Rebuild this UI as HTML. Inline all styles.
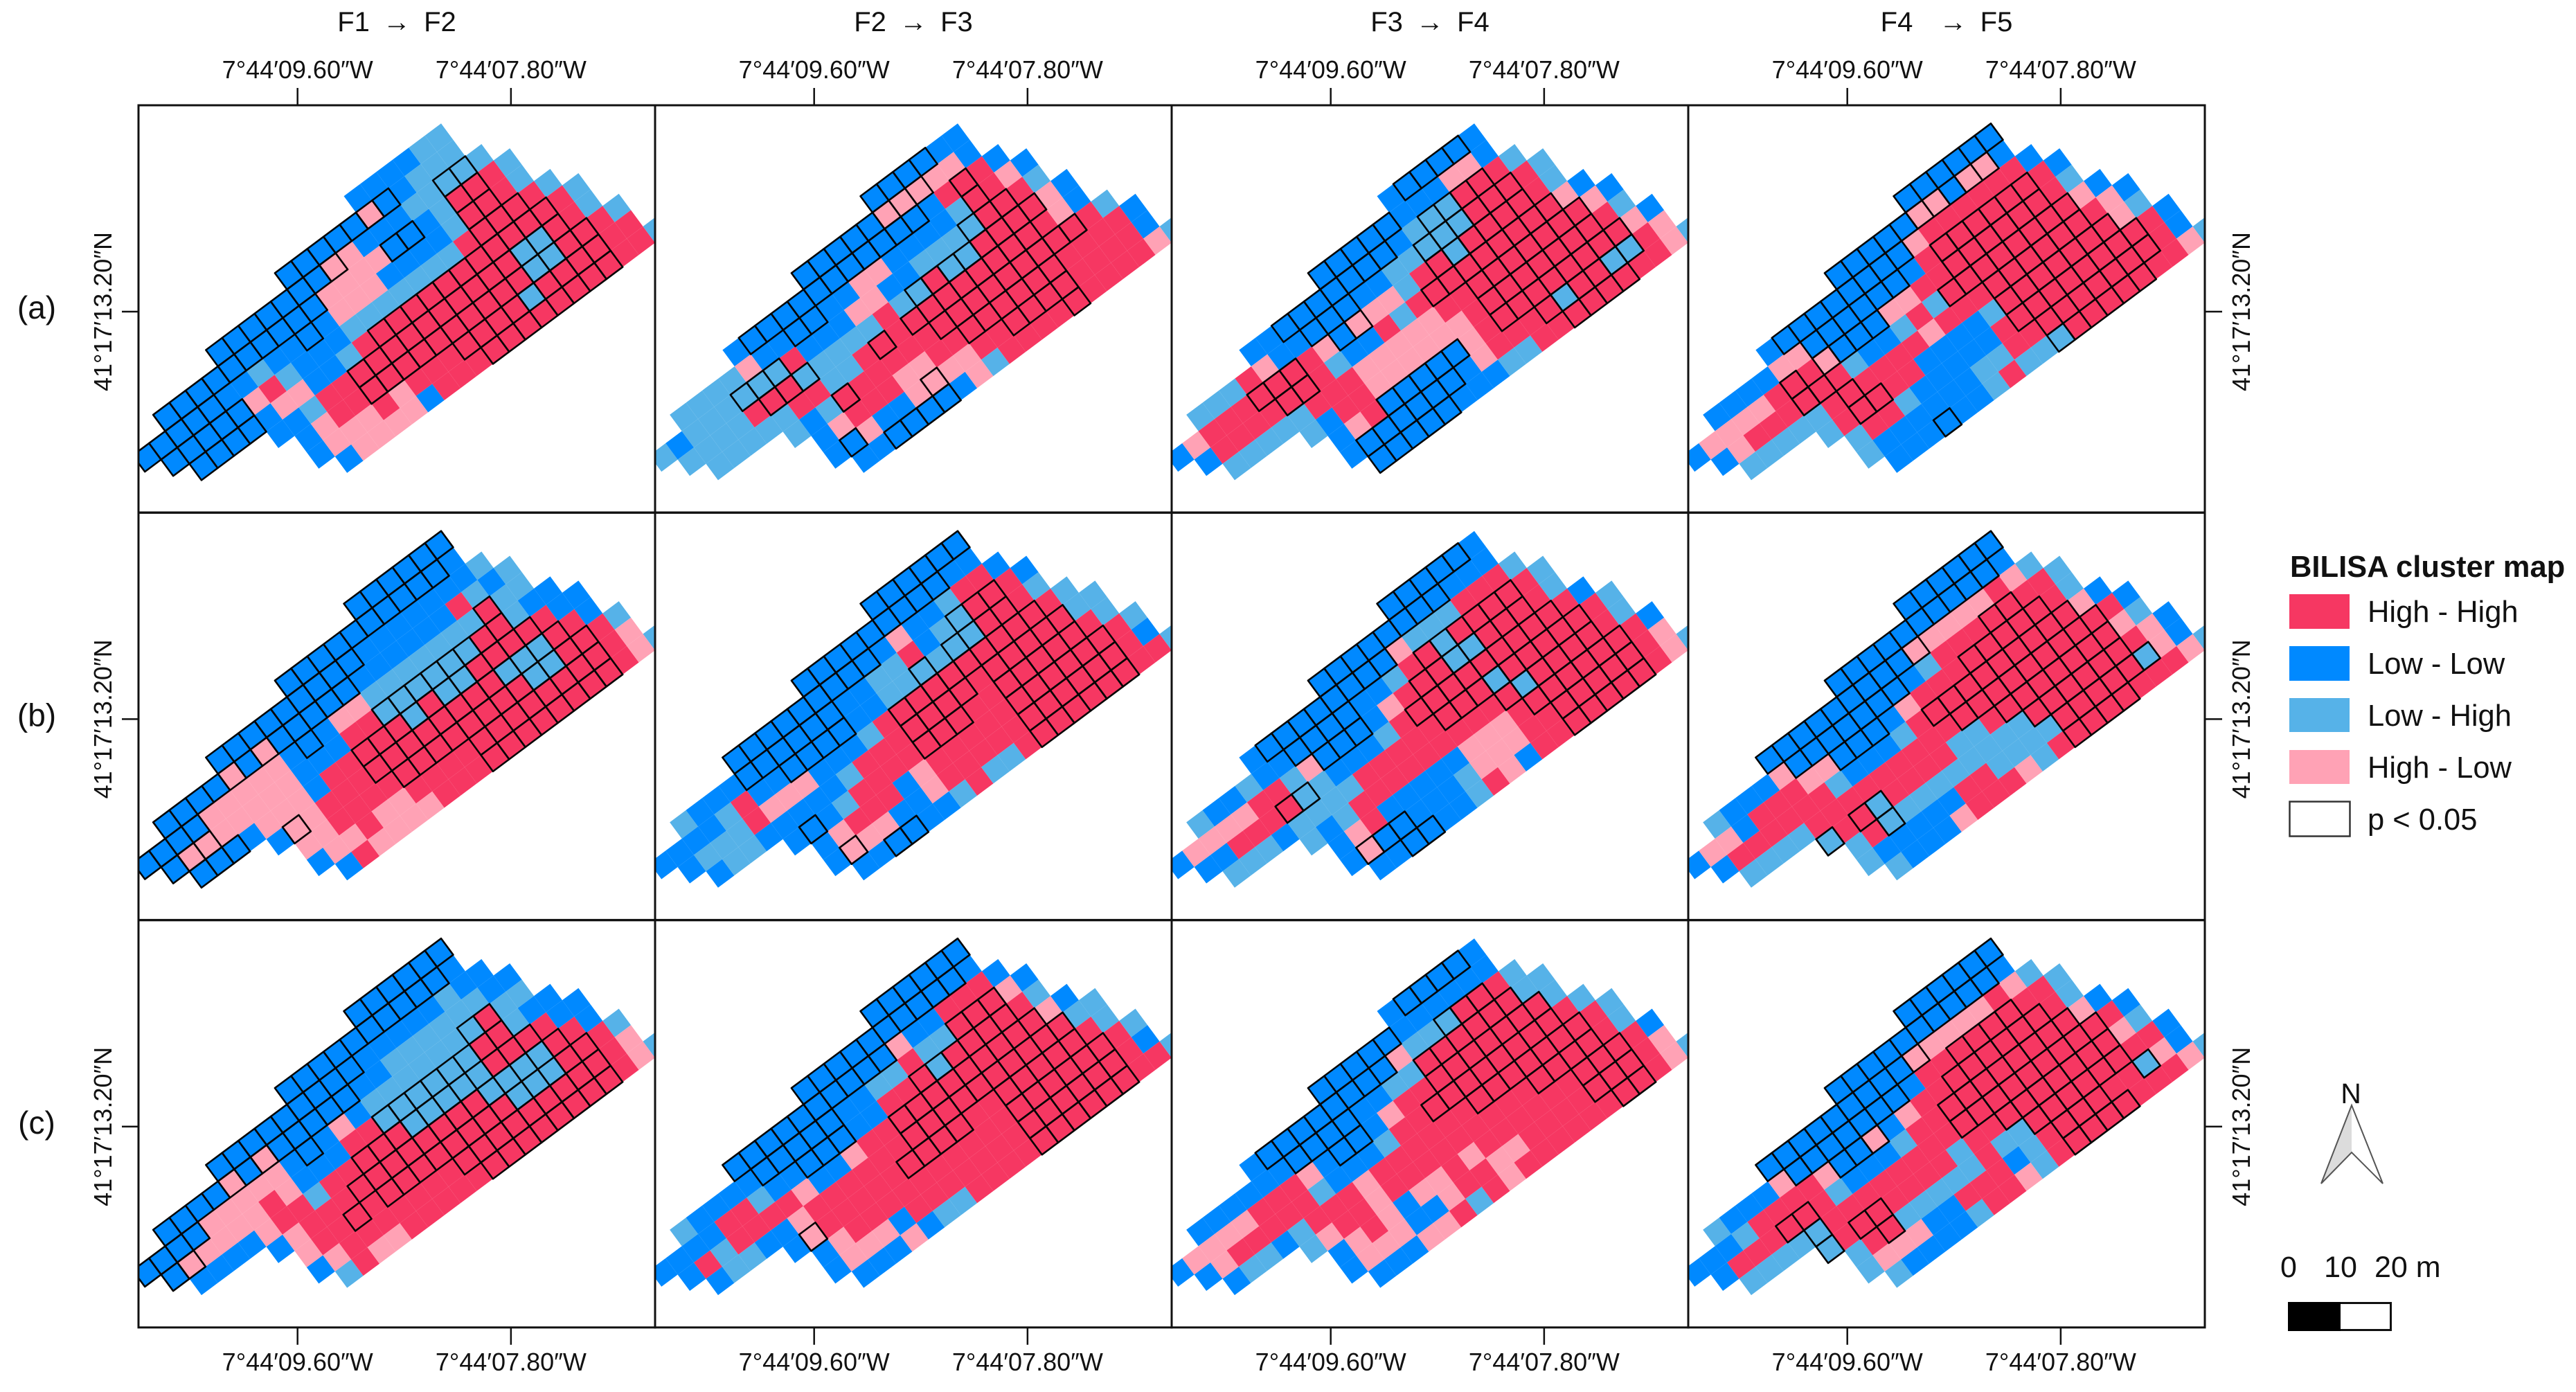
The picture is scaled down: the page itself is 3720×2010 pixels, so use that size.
<!DOCTYPE html>
<html lang="en">
<head>
<meta charset="utf-8">
<title>BILISA cluster map</title>
<style>
html,body{margin:0;padding:0;background:#fff;}
#chart{display:block;width:3720px;height:2010px;}
text{font-family:"Liberation Sans",Arial,sans-serif;fill:#111;}
</style>
</head>
<body>
<svg id="chart" xmlns="http://www.w3.org/2000/svg" width="3720" height="2010" viewBox="0 0 3720 2010">
  <rect x="0" y="0" width="3720" height="2010" fill="#ffffff"/>
  <defs id="clip-defs"></defs>
  <g id="maps"></g>
  <g id="frame"></g>
  <g id="axes"></g>

  <g>
    <text x="3307" y="833" font-size="43.5" font-weight="bold">BILISA cluster map</text>
    <rect x="3306" y="858" width="87" height="50" fill="#F63762"/>
    <text x="3419" y="898" font-size="43.5">High - High</text>
    <rect x="3306" y="933" width="87" height="50" fill="#0089FF"/>
    <text x="3419" y="973" font-size="43.5">Low - Low</text>
    <rect x="3306" y="1008" width="87" height="49" fill="#56B2E8"/>
    <text x="3419" y="1048" font-size="43.5">Low - High</text>
    <rect x="3306" y="1083" width="87" height="49" fill="#FFA2B5"/>
    <text x="3419" y="1123" font-size="43.5">High - Low</text>
    <rect x="3306.5" y="1157.5" width="87" height="50" fill="#ffffff" stroke="#333" stroke-width="2.5"/>
    <text x="3419" y="1198" font-size="43.5">p &lt; 0.05</text>
  </g>

  <g>
    <text x="3395" y="1593" font-size="41" text-anchor="middle">N</text>
    <polygon points="3396,1596 3352,1709 3396,1664" fill="#dcdcdc" stroke="none"/>
    <polygon points="3396,1596 3352,1709 3396,1664 3441,1709" fill="none" stroke="#555" stroke-width="2" stroke-linejoin="miter"/>
  </g>

  <g>
    <text x="3305" y="1844" font-size="43" text-anchor="middle">0</text>
    <text x="3380" y="1844" font-size="43" text-anchor="middle">10</text>
    <text x="3429" y="1844" font-size="43">20 m</text>
    <rect x="3305.5" y="1881.5" width="147" height="39" fill="#ffffff" stroke="#111" stroke-width="3"/>
    <rect x="3304" y="1880" width="76" height="42" fill="#000000"/>
  </g>
</svg>
<script>
// Cluster codes per cell: H high-high, L low-low, M low-high, P high-low.
// Lower case = same class with p < 0.05 (outlined). Each string is one grid row.
const rowStartIndex = [-5,-10,-15,-19,-21,-20,-19,-15,-14,-14,-13];

const panelA1 = ["LLLLMM","lllllplLMMM","lllllllpPLLLMMmmM","llllllllllPPPPllLMhhHM","lllllLLMLLlLPPPLLLLMhhHM","lllllPHMLLLMMMMMMMHhhhHM","llllLPPLLMHhhhhhhhhhhhHM","LLMHHhhhhhhhhhhmmhHM","LPHHhhhhhhhhhhmmhhHM","LPPPHPHHHhhhhmhhhhHH","LPPPPLHHHhhhhhhhhHHM"];
const panelA2 = ["llllLL","lllllpppPPL","LlllllllllllLHhHL","MMMMPLLllLLPPLLLLMhHPL","MLMMMmmmHLLLPPLLMMMmhhHM","MMMMHhhmMMMMHMmhmmhhhhPL","MMMMMHHMMHhHhhhhhhhhHPL","MLMhHHHHHhhhhhhhhhHM","LPHHHPPHHhhhhhhHHHHL","LlPLLPpPPHHhhhhHHHHL","LLllllLPMHHHHhHHHHPM"];
const panelA3 = ["LllllL","lllllLLLPPL","LLlllllllLMmmhhHM","MMMHPLLlllLLMMmmmhhhHM","LPHHHhhhHPlpPPMHhmhhhhHM","LHHHHhhHMLLHMHhhhhhhhhPL","MMMMMHHHPPPPPHHhhhhhhhPL","MLHHPPPPPPHhhhhhhhHM","LPHlllllPHhhhhhhhhPL","LllllllLPHHHhmhhmmHP","lllllLLLMMHHhhhhHHPM"];
const panelA4 = ["llllll","lllllpplppL","LllllllllPHHHHHHL","LLLLPPllllllLHhhhhhhHL","LPPPPHhHplllPPHHhhhhhhHM","LPHHHhhHMLLMHMhhhhhhhhPL","MMMMMHhHHHHPHHHhhhhhhHPL","MHhhHHLLLLMhhhhhhhPM","MHHMLLLLLHhhhhhhhhHL","MLLLLLLMMHHhhhhhhhHL","LLLlLLMHMMmhhhhhHHPM"];

const panelB1 = ["llllll","llllllllllL","lllllllllLLLLLLLM","llllplplllllLLLLLLHMLM","llllPPPPPLlLPPMMMMMMMhMM","lppPPPPPLLLHHmmmmmmhhMLL","lllLPPPLHHhhhmhmmhhhhHLL","LpPHHHhhhhhhhhmmmhHL","PPHHHHhhhhhhhhmmhhHM","LPPHPPHHHHhhhhhhhhHP","LHPPPPHHHhhhhhhhhHPM"];
const panelB2 = ["llllll","lllllllllLL","lllllllllLPLLMHHL","MLLLllllllLLMMHLMmhhHL","LLLLMHLLllllLLMMmMmmhhHM","LMMMHPPPLLLMHhhhhhhhhhHM","LMMLLLLLMHHHhhhhHhhhhhMM","LlLMHHHHhhhHHhhhhhHM","LPHHHLPHHHHHhhhhhhHM","LpPPLLPHHHHHhhhhhhHL","LLllLLMHMMHhhhhhhHHM"];
const panelB3 = ["lllllL","llllllllLLL","LllllllllPMMMHHHM","MLLMLLllllLLMHhmhhhhHM","LPPPPHHMPlllLPHhhmmhhhHM","LLHHHhmMLLLMHhhhhhhhhhHL","MMMLMMMMHHHHHhhhmhhhhhHM","MLMHHHHHHHHHhmhhhhHM","LPHLLLLLPPPHhhhhhhHL","LpllLLLMPPPHHhhhhhHP","LLllLLMHPLHHhhhhhHPM"];
const panelB4 = ["llllll","llllllllllL","lllllllllpPPPPHPM","MLLLPlllllllLMHHHhhHHM","LPPLHHHPPlllLPHHHhhhhhHM","LHHHHHHMLLLMHhhhhhhhhhPL","MMMMHHHHHHHHHhhhhhhhhhHL","mHhmHHHHMMHhhhhhhhPM","MHmMMMMMMMMhhhhhhHPL","MLLLLLHHMMMMhhhhhmPL","MLLLPHHHPMHhhhhHHHPM"];

const panelC1 = ["llllll","llllllllllL","lllllllllLLLLLMLL","llllplplllllLLMMMMMMLL","llllPPPPPLlLPLMMMMMMmhMM","lpPPPPHPLLLHHmmmmmmhhMLL","LLLLPHHMHHhhhmmmmmhhhHLL","LPHHHhhhhhhhhmmmmhHL","PHHhHhhhhhhhhmmmhhHM","LPHHHHHHHhhhhhhhhhHP","MHPPHHHHHhhhhhhhhHPM"];
const panelC2 = ["llllll","llllllllllL","llllllllllPLLHHHL","MLLLLlllllLLMMHMMhhhPL","LLLLHHMLLlllLLHHhmhhhhHM","LHMHHHHPLLPHHhhhhhhhhhPL","LMMLLPHHHHHHhhhhhhhhhhMM","LpHHHHHhhhhHHhhhhhHM","LPHHHHHHHHHHhhhhhhHM","LPPPLHHHHHHHhhhhhhHL","LLLPLMMHHHHhhhhhhHHM"];
const panelC3 = ["LllllL","lllllLLLLLL","LllllllllPMMmhhHM","LLLLLLllllLLMMhhhhhhMM","LPPPPHHHPLllLPHHhhhhhhhM","LPHHHHHMLLLMHHhhhhhhhhHM","LMMLMHHHPHHHHHHhhhhhhhHM","MPHHPHHHHHHHHHhhhhHM","LPHPLPPHPHHHHHHhhhHL","LPPPLLPHHPPHHHHhhhHP","LLLPPHMHPHHHHHHhhHPM"];
const panelC4 = ["llllll","llllllllllL","lllllllllpPPPPHPM","MLLLPlllllllLHHhhhhHHM","LLLMHHHHPllpLPHHhhhhhhHM","LHHHhhHMLLLMHHhhhhhhhhPL","MMMMmHHHHHHHHhhhhhhhhhHL","mHhhHHHHMHHhhhhhhhPM","MHhMMMMMHMMhhhhhhHHL","MPPPLLHHHLMHhhhHHmPL","MLLLLMHHPMHhhhhHHHPM"];

const panelGrid = [
  [panelA1, panelA2, panelA3, panelA4],
  [panelB1, panelB2, panelB3, panelB4],
  [panelC1, panelC2, panelC3, panelC4]
];

const columnTitles = ["F1 \u2192 F2", "F2 \u2192 F3", "F3 \u2192 F4", "F4 \u00A0\u2192 F5"];
const rowTitles = ["(a)", "(b)", "(c)"];
const lonTickSeconds = [9.6, 7.8];
const lonTickLabels = ["7\u00B044\u203209.60\u2033W", "7\u00B044\u203207.80\u2033W"];
const latTickLabels = ["41\u00B017\u203213.20\u2033N"];

const clusterColors = {H:"#F63762", L:"#0089FF", M:"#56B2E8", P:"#FFA2B5"};

const NS = "http://www.w3.org/2000/svg";
const panelW = 746;
const panelH = 588;
function panelLeft(col){ return 200 + col * panelW; }
function panelTop(row){ return 152 + row * 588.4; }
// Lattice axis functions: grid corner (r,c) to page pixels.
function gridX(col, r, c){ return panelLeft(col) + 437 + c * 23.41 + r * 17.45; }
function gridY(row, r, c){ return panelTop(row) + 26.3 - c * 17.49 + r * 23.61; }
// Longitude axis: seconds west to x offset inside a panel.
function lonX(sec){ return 229.7 + (9.6 - sec) * 171.2; }

function make(tag, attrs, parent){
  const el = document.createElementNS(NS, tag);
  for (const k in attrs) el.setAttribute(k, attrs[k]);
  parent.appendChild(el);
  return el;
}
function cellPoints(col, row, r, c){
  const p = [[r,c],[r+1,c],[r+1,c-1],[r,c-1]];
  return p.map(function(q){ return gridX(col,q[0],q[1]).toFixed(2) + "," + gridY(row,q[0],q[1]).toFixed(2); }).join(" ");
}

const defs = document.getElementById("clip-defs");
const maps = document.getElementById("maps");
const frame = document.getElementById("frame");
const axes = document.getElementById("axes");

panelGrid.forEach(function(rowPanels, row){
  rowPanels.forEach(function(panel, col){
    const clip = make("clipPath", {id:"clip-"+row+"-"+col}, defs);
    make("rect", {x:panelLeft(col), y:panelTop(row), width:panelW, height:panelH}, clip);
    const g = make("g", {"clip-path":"url(#clip-"+row+"-"+col+")"}, maps);
    
    
    // fills first
    panel.forEach(function(str, r){
      for (let i = 0; i < str.length; i++){
        const code = str[i];
        const c = rowStartIndex[r] + i;
        const poly = make("polygon", {points:cellPoints(col,row,r,c), fill:clusterColors[code.toUpperCase()]}, g);
        
        
      }
    });
    // significance outlines on top
    panel.forEach(function(str, r){
      for (let i = 0; i < str.length; i++){
        const code = str[i];
        if (code !== code.toLowerCase()) continue;
        const c = rowStartIndex[r] + i;
        const out = make("polygon", {points:cellPoints(col,row,r,c), fill:"none", stroke:"#050505", "stroke-width":"2.6", "stroke-linejoin":"round"}, g);
        
        
      }
    });
    const border = make("rect", {x:panelLeft(col), y:panelTop(row), width:panelW, height:panelH, fill:"none", stroke:"#111", "stroke-width":"3"}, frame);
    
    
  });
});

columnTitles.forEach(function(title, col){
  const t = make("text", {x:panelLeft(col)+373, y:45, "font-size":40, "word-spacing":8, "text-anchor":"middle"}, axes);
  t.textContent = title;
  
  
  lonTickSeconds.forEach(function(sec, k){
    const x = panelLeft(col) + lonX(sec);
    const topTick = make("line", {x1:x, x2:x, y1:127, y2:152, stroke:"#111", "stroke-width":"2.5"}, axes);
    
    
    const bottomY = panelTop(2) + panelH;
    const botTick = make("line", {x1:x, x2:x, y1:bottomY, y2:bottomY+25, stroke:"#111", "stroke-width":"2.5"}, axes);
    
    
    const topLabel = make("text", {x:x, y:113, "font-size":36, "text-anchor":"middle"}, axes);
    topLabel.textContent = lonTickLabels[k];
    
    
    const botLabel = make("text", {x:x, y:1979, "font-size":36, "text-anchor":"middle"}, axes);
    botLabel.textContent = lonTickLabels[k];
    
    
  });
});

rowTitles.forEach(function(title, row){
  const tickY = panelTop(row) + 298;
  const t = make("text", {x:53, y:tickY+10, "font-size":46, "text-anchor":"middle"}, axes);
  t.textContent = title;
  
  
  const left = make("line", {x1:176, x2:200, y1:tickY, y2:tickY, stroke:"#111", "stroke-width":"2.5"}, axes);
  
  
  const rightEdge = panelLeft(4);
  const right = make("line", {x1:rightEdge, x2:rightEdge+25, y1:tickY, y2:tickY, stroke:"#111", "stroke-width":"2.5"}, axes);
  
  
  const leftLabel = make("text", {transform:"translate(161,"+tickY+") rotate(-90)", "font-size":36, "text-anchor":"middle"}, axes);
  leftLabel.textContent = latTickLabels[0];
  
  
  const rightLabel = make("text", {transform:"translate(3249,"+tickY+") rotate(-90)", "font-size":36, "text-anchor":"middle"}, axes);
  rightLabel.textContent = latTickLabels[0];
  
  
});
</script>
</body>
</html>
